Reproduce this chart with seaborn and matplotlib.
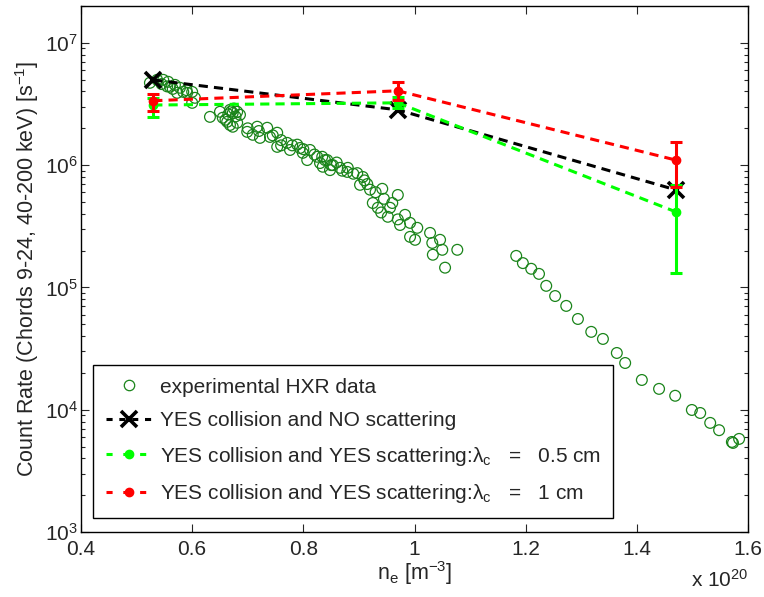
import numpy as np
import pandas as pd
import matplotlib
matplotlib.use("Agg")
import matplotlib.pyplot as plt
import seaborn as sns
from matplotlib.lines import Line2D

# ---------------- data ----------------
exp_ne = [0.524, 0.537, 0.548, 0.557, 0.560, 0.569, 0.578, 0.584, 0.573, 0.591,
          0.600, 0.605, 0.600, 0.632, 0.650, 0.668, 0.673, 0.681, 0.686, 0.655,
          0.663, 0.668, 0.673, 0.681, 0.699, 0.717, 0.709, 0.722, 0.735, 0.740,
          0.753, 0.753, 0.771, 0.776, 0.789, 0.794, 0.799, 0.807, 0.812, 0.825,
          0.830, 0.835, 0.843, 0.848,
          0.545, 0.565, 0.590, 0.555, 0.670, 0.675, 0.665, 0.678, 0.660,
          0.700, 0.720, 0.745, 0.760, 0.780, 0.800, 0.820, 0.760, 0.850, 0.860,
          0.870, 0.880, 0.890, 0.910, 0.915, 0.930, 0.945, 0.960, 0.940, 0.970,
          0.834, 0.839, 0.853, 0.866, 0.879, 0.897, 0.907, 0.902, 0.920, 0.942,
          0.970, 0.925, 0.934, 0.956, 0.952, 0.983, 0.974, 0.992, 1.005, 0.992,
          1.001, 1.028, 1.046, 1.032, 1.050, 1.077, 1.033, 1.055,
          1.183, 1.195, 1.210, 1.224, 1.237, 1.253, 1.273, 1.294, 1.318, 1.339,
          1.364, 1.379, 1.409, 1.440, 1.469, 1.499, 1.514, 1.532, 1.548, 1.571,
          1.573, 1.584]
exp_rate = [4.71e6, 4.98e6, 4.98e6, 4.80e6, 4.37e6, 4.53e6, 4.29e6, 3.97e6, 3.90e6, 3.90e6,
            3.97e6, 3.55e6, 3.23e6, 2.48e6, 2.73e6, 2.83e6, 2.67e6, 2.73e6, 2.58e6, 2.44e6,
            2.26e6, 2.13e6, 2.06e6, 2.22e6, 1.87e6, 2.06e6, 1.77e6, 1.67e6, 2.02e6, 1.70e6,
            1.84e6, 1.41e6, 1.52e6, 1.33e6, 1.47e6, 1.38e6, 1.26e6, 1.10e6, 1.33e6, 1.17e6,
            1.04e6, 9.7e5, 1.10e6, 9.1e5,
            4.6e6, 4.2e6, 4.1e6, 4.4e6, 2.75e6, 2.9e6, 2.6e6, 2.5e6, 2.35e6,
            2.0e6, 1.9e6, 1.75e6, 1.6e6, 1.45e6, 1.35e6, 1.22e6, 1.45e6, 1.0e6, 1.05e6,
            9.0e5, 9.5e5, 8.5e5, 7.5e5, 7.0e5, 6.0e5, 5.3e5, 4.9e5, 4.1e5, 3.6e5,
            1.17e6, 1.10e6, 1.00e6, 9.5e5, 8.8e5, 8.6e5, 8.0e5, 6.9e5, 6.3e5, 6.4e5,
            5.7e5, 4.9e5, 4.48e5, 4.48e5, 3.78e5, 3.92e5, 3.24e5, 3.37e5, 3.07e5, 2.59e5,
            2.45e5, 2.79e5, 2.45e5, 2.31e5, 2.03e5, 2.03e5, 1.85e5, 1.45e5,
            1.81e5, 1.58e5, 1.42e5, 1.29e5, 1.03e5, 8.5e4, 7.06e4, 5.52e4, 4.33e4, 3.79e4,
            2.91e4, 2.41e4, 1.75e4, 1.48e4, 1.30e4, 9.95e3, 9.4e3, 7.8e3, 6.8e3, 5.45e3,
            5.35e3, 5.77e3]

model_ne = [0.53, 0.97, 1.47]
noscat_rate = [4.97e6, 2.83e6, 6.28e5]
scat05_rate = [3.10e6, 3.23e6, 4.15e5]
scat05_low = [2.48e6, 2.94e6, 1.31e5]
scat05_high = [3.55e6, 3.61e6, 6.90e5]
scat1_rate = [3.36e6, 4.05e6, 1.10e6]
scat1_low = [2.78e6, 3.42e6, 6.60e5]
scat1_high = [3.83e6, 4.80e6, 1.55e6]

labels = ["experimental HXR data",
          "YES collision and NO scattering",
          "YES collision and YES scattering:λ$_{\\mathrm{c}}$   =   0.5 cm",
          "YES collision and YES scattering:λ$_{\\mathrm{c}}$   =   1 cm"]
xticks = [0.4, 0.6, 0.8, 1.0, 1.2, 1.4, 1.6]
xticklabels = ["0.4", "0.6", "0.8", "1", "1.2", "1.4", "1.6"]

# ---------------- style ----------------
sns.set_style("ticks")
plt.rcParams['font.family'] = ['Liberation Sans', 'DejaVu Sans']
plt.rcParams['mathtext.fontset'] = 'custom'
plt.rcParams['mathtext.rm'] = 'Liberation Sans'
plt.rcParams['mathtext.it'] = 'Liberation Sans:italic'
plt.rcParams['mathtext.bf'] = 'Liberation Sans:bold'
FS = 15

fig = plt.figure(figsize=(7.64, 5.97), dpi=100)
ax = fig.add_axes([81 / 764, 65 / 597, 667 / 764, 526 / 597])

df = pd.DataFrame({"ne": exp_ne, "rate": exp_rate})
sns.scatterplot(data=df, x="ne", y="rate", ax=ax, s=60, marker="o", legend=False, zorder=2)
pts = ax.collections[-1]
pts.set_facecolor("none")
pts.set_edgecolor("#1a841a")
pts.set_linewidth(0.9)

dash = (3, 2)
c_green = "#00ff00"
c_red = "#ff0000"

# black: no scattering
ax.plot(model_ne, noscat_rate, color="black", lw=2.2, dashes=dash, marker="x",
        ms=11, mew=2.6, zorder=3)

# green: lambda 0.5 cm
g = np.array(scat05_rate)
ax.plot(model_ne, scat05_rate, color=c_green, lw=2.2, dashes=dash, zorder=4)
ax.errorbar(model_ne, scat05_rate,
            yerr=[g - np.array(scat05_low), np.array(scat05_high) - g],
            fmt="o", color=c_green, ms=6, elinewidth=2.2, capsize=4, capthick=2.2, zorder=4)

# red: lambda 1 cm
r = np.array(scat1_rate)
ax.plot(model_ne, scat1_rate, color=c_red, lw=2.2, dashes=dash, zorder=5)
ax.errorbar(model_ne, scat1_rate,
            yerr=[r - np.array(scat1_low), np.array(scat1_high) - r],
            fmt="o", color=c_red, ms=6, elinewidth=2.2, capsize=4, capthick=2.2, zorder=5)

ax.set_yscale("log")
ax.set_xlim(0.4, 1.6)
ax.set_ylim(1e3, 2e7)
ax.set_xticks(xticks)
ax.set_xticklabels(xticklabels)
ax.tick_params(axis="both", which="both", direction="in", top=True, right=True,
               labelsize=FS, width=0.8)
ax.tick_params(axis="x", pad=6)
ax.tick_params(axis="y", pad=2)
ax.tick_params(which="major", length=6)
ax.tick_params(which="minor", length=3)
ax.tick_params(axis="x", which="minor", top=False, bottom=False)
for s in ax.spines.values():
    s.set_linewidth(1.0)
    s.set_color("black")

ax.set_xlabel("n$_{\\mathrm{e}}$ [m$^{-3}$]", fontsize=FS + 0.5, labelpad=0)
ax.set_ylabel("Count Rate (Chords 9-24, 40-200 keV) [s$^{-1}$]", fontsize=FS + 0.5, labelpad=3)
fig.text(748 / 764, 1 - 580 / 597, "x 10$^{20}$", ha="right", va="center", fontsize=FS)

handles = [
    Line2D([], [], ls="none", marker="o", mfc="none", mec="#1a841a", ms=7.5, mew=0.9),
    Line2D([], [], color="black", lw=2.2, dashes=(2, 2.2), marker="x", ms=11, mew=2.6),
    Line2D([], [], color=c_green, lw=2.2, dashes=(2, 3.5), marker="o", ms=6),
    Line2D([], [], color=c_red, lw=2.2, dashes=(2, 3.5), marker="o", ms=6),
]
leg = ax.legend(handles, labels, loc="lower left", bbox_to_anchor=(0.018, 0.027),
                borderaxespad=0, fontsize=FS, frameon=True, fancybox=False,
                edgecolor="black", framealpha=1, handlelength=2.3, handletextpad=0.3,
                labelspacing=0.7, borderpad=0.6)
leg.get_frame().set_linewidth(1.0)

fig.savefig("out.png", dpi=100)
